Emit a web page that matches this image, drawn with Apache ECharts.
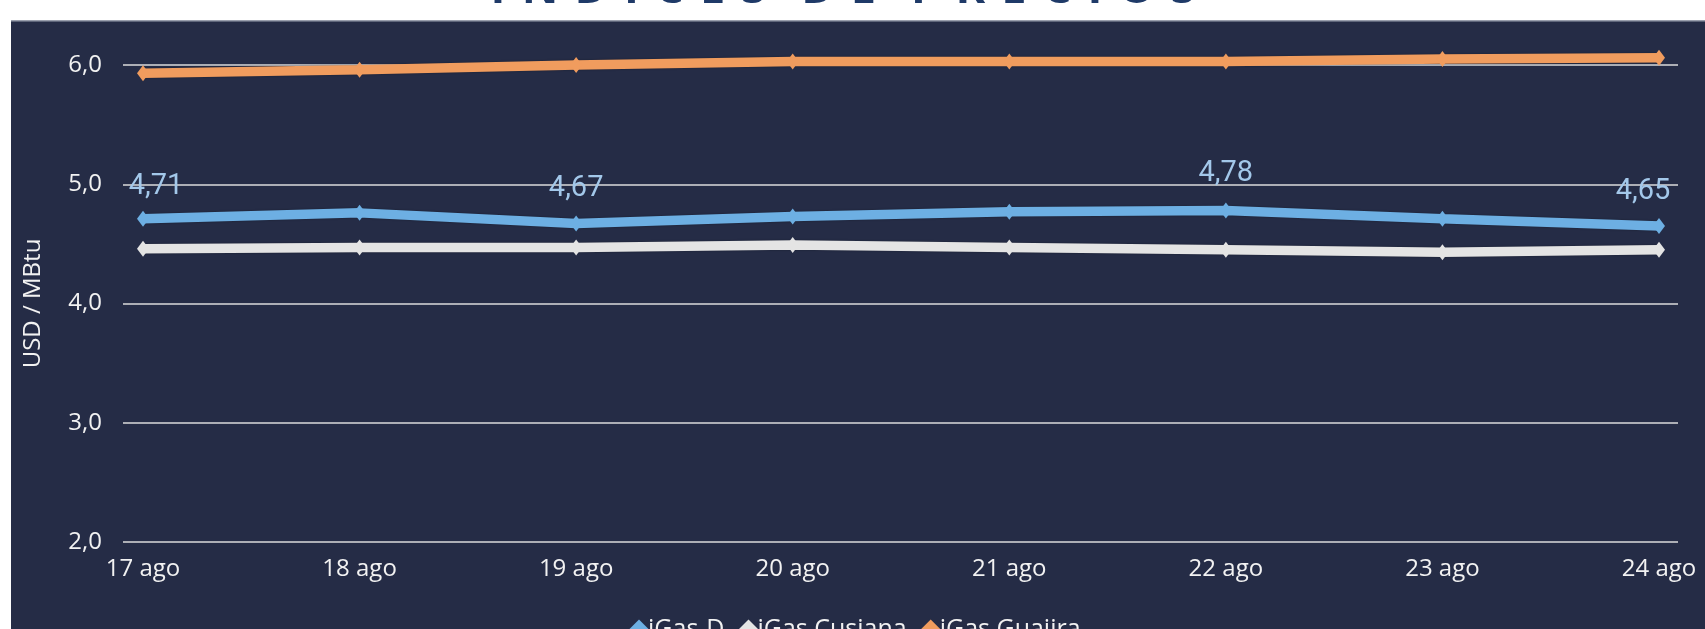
<!DOCTYPE html>
<html>
<head>
<meta charset="utf-8">
<script src="https://cdn.jsdelivr.net/npm/echarts@6/dist/echarts.min.js"></script>
<style>
html,body{margin:0;padding:0;background:#fff;}
#c{width:1705px;height:629px;}
</style>
</head>
<body>
<div id="c"></div>
<script>
var categories = ['17 ago','18 ago','19 ago','20 ago','21 ago','22 ago','23 ago','24 ago'];
var igasD = [4.71, 4.76, 4.67, 4.73, 4.77, 4.78, 4.71, 4.65];
var igasCusiana = [4.46, 4.47, 4.47, 4.49, 4.47, 4.45, 4.43, 4.45];
var igasGuajira = [5.93, 5.96, 6.00, 6.03, 6.03, 6.03, 6.05, 6.06];
var labelledD = [0, 2, 5, 7];
var labelOffsets = {0: [13, 4], 2: [0, 2], 5: [0, 0], 7: [-16, 2]};
var seriesNames = ['iGas-D', 'iGas Cusiana', 'iGas Guajira'];
var yTicks = {min: 2, max: 6, interval: 1};
var titleText = 'ÍNDICES DE PRECIOS';

var FONT = '"Open Sans", "Noto Sans", sans-serif';
var TXT = '#F2F2F2';
var BLUE = '#6DAFE3', GREY = '#E4E4E4', ORANGE = '#F09C5E';

var chart = echarts.init(document.getElementById('c'));

var dData = igasD.map(function (v, i) {
  var o = {value: v};
  if (labelledD.indexOf(i) >= 0) {
    o.label = {show: true, offset: labelOffsets[i]};
  }
  return o;
});

// spaced-out title (letter spacing)
var spacedTitle = titleText.split(' ').map(function (w) {
  return w.split('').join(' \u200A');
}).join('   ');

function lineSeries(name, data, color, extra) {
  var s = {
    name: name,
    type: 'line',
    xAxisIndex: 1,
    yAxisIndex: 1,
    data: data,
    clip: false,
    symbol: 'diamond',
    symbolSize: [12, 16],
    showAllSymbol: true,
    lineStyle: {color: color, width: 9.5, shadowColor: 'rgba(0,0,0,0.35)', shadowBlur: 2},
    itemStyle: {color: color},
    emphasis: {disabled: true},
    animation: false
  };
  for (var k in extra) s[k] = extra[k];
  return s;
}

var option = {
  backgroundColor: '#ffffff',
  animation: false,
  graphic: [
    {type: 'rect', left: 11, top: 20, shape: {width: 1694, height: 609}, style: {fill: '#252C46'}, z: -10},
    {type: 'rect', left: 11, top: 20, shape: {width: 1694, height: 1.5}, style: {fill: '#9A9FAD'}, z: -9},
    {type: 'text', x: 843, y: 12.5, style: {text: spacedTitle, fill: '#1F3A68', font: 'bold 45px "Open Sans", sans-serif', align: 'center', verticalAlign: 'bottom', textAlign: 'center', textVerticalAlign: 'bottom'}, z: -8}
  ],
  legend: {
    data: seriesNames,
    left: 624,
    top: 612,
    icon: 'diamond',
    itemWidth: 20,
    itemHeight: 20,
    itemGap: 14,
    textStyle: {color: TXT, fontSize: 25, fontFamily: FONT, padding: [0, 0, 0, -6]}
  },
  grid: [
    {left: 123, right: 27, top: 65, bottom: 87},
    {left: 143, right: 46, top: 65, bottom: 87}
  ],
  xAxis: [
    {gridIndex: 0, type: 'value', show: false, min: 0, max: 1},
    {gridIndex: 1, type: 'category', data: categories, boundaryGap: false,
      axisLine: {show: false}, axisTick: {show: false}, splitLine: {show: false},
      axisLabel: {color: TXT, fontSize: 24, fontFamily: FONT, margin: 15, interval: 0}}
  ],
  yAxis: [
    {gridIndex: 0, type: 'value', min: yTicks.min, max: yTicks.max, interval: yTicks.interval,
      axisLine: {show: false}, axisTick: {show: false},
      splitLine: {lineStyle: {color: '#ADAFB6', width: 2}},
      axisLabel: {color: TXT, fontSize: 24, fontFamily: FONT, margin: 21,
        formatter: function (v) { return v.toFixed(1).replace('.', ','); }},
      name: 'USD / MBtu', nameLocation: 'middle', nameRotate: 90, nameGap: 78,
      nameTextStyle: {color: TXT, fontSize: 24, fontFamily: FONT}},
    {gridIndex: 1, type: 'value', min: yTicks.min, max: yTicks.max, interval: yTicks.interval, show: false}
  ],
  series: [
    lineSeries(seriesNames[0], dData, BLUE, {
      z: 4,
      label: {show: false, position: 'top', distance: 14, color: '#A3C8EA', fontSize: 29,
        fontFamily: 'Roboto, sans-serif',
        formatter: function (p) { return p.value.toFixed(2).replace('.', ','); }}
    }),
    lineSeries(seriesNames[1], igasCusiana, GREY, {z: 3}),
    lineSeries(seriesNames[2], igasGuajira, ORANGE, {z: 3})
  ]
};
chart.setOption(option);
</script>
</body>
</html>
